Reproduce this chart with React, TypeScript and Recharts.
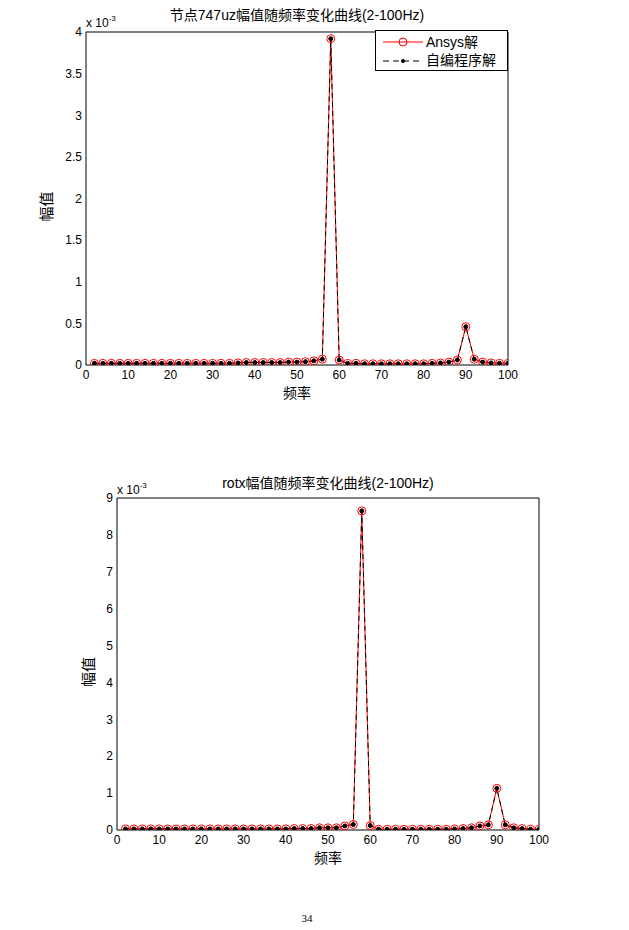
import { LineChart, Line, XAxis, YAxis, Legend } from "recharts";

const FONT = '"Liberation Sans", Arial, "Noto Sans CJK SC", sans-serif';

// frequency points (Hz)
const freq = [
  2, 4, 6, 8, 10, 12, 14, 16, 18, 20, 22, 24, 26, 28, 30, 32, 34, 36, 38, 40,
  42, 44, 46, 48, 50, 52, 54, 56, 58, 60, 62, 64, 66, 68, 70, 72, 74, 76, 78, 80,
  82, 84, 86, 88, 90, 92, 94, 96, 98, 100,
];

// node 747 uz amplitude, x 1e-3
const ansysTop = [
  0.02, 0.02, 0.02, 0.02, 0.02, 0.02, 0.02, 0.02, 0.02, 0.02, 0.02, 0.02, 0.02, 0.02, 0.02, 0.02, 0.02, 0.025, 0.03, 0.03,
  0.03, 0.03, 0.03, 0.035, 0.035, 0.04, 0.05, 0.07, 3.92, 0.06, 0.02, 0.02, 0.015, 0.015, 0.015, 0.015, 0.015, 0.015, 0.015, 0.015,
  0.02, 0.025, 0.035, 0.06, 0.46, 0.07, 0.035, 0.025, 0.02, 0.02,
];
const ownTop = [
  0.02, 0.02, 0.02, 0.02, 0.02, 0.02, 0.02, 0.02, 0.02, 0.02, 0.02, 0.02, 0.02, 0.02, 0.02, 0.02, 0.02, 0.025, 0.03, 0.03,
  0.03, 0.03, 0.03, 0.035, 0.035, 0.04, 0.05, 0.07, 3.92, 0.06, 0.02, 0.02, 0.015, 0.015, 0.015, 0.015, 0.015, 0.015, 0.015, 0.015,
  0.02, 0.025, 0.035, 0.06, 0.46, 0.07, 0.035, 0.025, 0.02, 0.02,
];

// rotx amplitude, x 1e-3
const ansysBottom = [
  0.03, 0.03, 0.03, 0.03, 0.03, 0.03, 0.03, 0.03, 0.03, 0.03, 0.03, 0.03, 0.03, 0.03, 0.03, 0.03, 0.03, 0.03, 0.03, 0.03,
  0.04, 0.04, 0.04, 0.06, 0.06, 0.06, 0.11, 0.15, 8.65, 0.12, 0.02, 0.02, 0.02, 0.02, 0.02, 0.02, 0.02, 0.02, 0.02, 0.03,
  0.04, 0.06, 0.11, 0.14, 1.13, 0.14, 0.06, 0.04, 0.02, 0.02,
];
const ownBottom = [
  0.03, 0.03, 0.03, 0.03, 0.03, 0.03, 0.03, 0.03, 0.03, 0.03, 0.03, 0.03, 0.03, 0.03, 0.03, 0.03, 0.03, 0.03, 0.03, 0.03,
  0.04, 0.04, 0.04, 0.06, 0.06, 0.06, 0.11, 0.15, 8.65, 0.12, 0.02, 0.02, 0.02, 0.02, 0.02, 0.02, 0.02, 0.02, 0.02, 0.03,
  0.04, 0.06, 0.11, 0.14, 1.13, 0.14, 0.06, 0.04, 0.02, 0.02,
];

const xTicks = [0, 10, 20, 30, 40, 50, 60, 70, 80, 90, 100];
const yTicksTop = [0, 0.5, 1, 1.5, 2, 2.5, 3, 3.5, 4];
const yTicksBottom = [0, 1, 2, 3, 4, 5, 6, 7, 8, 9];

const SERIES_NAMES = ["Ansys解", "自编程序解"];

function LegendBox() {
  return (
    <div
      style={{
        width: 133,
        height: 41,
        boxSizing: "border-box",
        border: "1px solid #000",
        background: "#fff",
        fontFamily: FONT,
        fontSize: 14,
        color: "#000",
        position: "relative",
      }}
    >
      <svg width={44} height={40} style={{ position: "absolute", left: 5, top: 0 }}>
        <line x1={2} y1={11} x2={42} y2={11} stroke="#ff0000" strokeWidth={1} />
        <circle cx={22} cy={11} r={4} fill="none" stroke="#ff0000" />
        <line x1={2} y1={30} x2={42} y2={30} stroke="#000" strokeDasharray="6 4" />
        <circle cx={22} cy={30} r={2} fill="#000" />
      </svg>
      <div style={{ position: "absolute", left: 50, top: 3, lineHeight: "16px" }}>{SERIES_NAMES[0]}</div>
      <div style={{ position: "absolute", left: 50, top: 21, lineHeight: "16px" }}>{SERIES_NAMES[1]}</div>
    </div>
  );
}

interface PanelProps {
  top: number;
  height: number;
  margin: { top: number; left: number; right: number; bottom: number };
  ansys: number[];
  own: number[];
  yTicks: number[];
  yLabelOffset: number;
  legend?: boolean;
}

function Panel({ top, height, margin, ansys, own, yTicks, yLabelOffset, legend }: PanelProps) {
  const data = freq.map((f, i) => ({ f, ansys: ansys[i], own: own[i] }));
  const yDomain = [0, yTicks[yTicks.length - 1]];
  const tickStyle = { fontSize: 12, fill: "#000", fontFamily: FONT };
  return (
    <div style={{ position: "absolute", left: 0, top }}>
      <LineChart width={629} height={height} data={data} margin={margin} style={{ fontFamily: FONT }}>
        <XAxis
          xAxisId="b"
          dataKey="f"
          type="number"
          domain={[0, 100]}
          ticks={xTicks}
          interval={0}
          allowDataOverflow
          height={35}
          tickLine={false}
          tickSize={0}
          tickMargin={5}
          axisLine={{ stroke: "#000" }}
          tick={tickStyle}
          label={{ value: "频率", position: "insideBottom", offset: 2, fontSize: 14, fill: "#000" }}
        />
        <XAxis
          xAxisId="bIn"
          type="number"
          domain={[0, 100]}
          ticks={xTicks}
          allowDataOverflow
          mirror
          tick={false}
          tickSize={4}
          tickLine={{ stroke: "#000" }}
          axisLine={false}
        />
        <XAxis
          xAxisId="t"
          orientation="top"
          type="number"
          domain={[0, 100]}
          ticks={xTicks}
          allowDataOverflow
          mirror
          tick={false}
          tickSize={4}
          tickLine={{ stroke: "#000" }}
          axisLine={{ stroke: "#000" }}
        />
        <YAxis
          yAxisId="l"
          type="number"
          domain={yDomain}
          ticks={yTicks}
          interval={0}
          allowDataOverflow
          width={50}
          tickLine={false}
          tickSize={0}
          tickMargin={4}
          axisLine={{ stroke: "#000" }}
          tick={tickStyle}
          label={{
            value: "幅值",
            angle: -90,
            position: "insideLeft",
            offset: yLabelOffset,
            dy: 8,
            fontSize: 15,
            fill: "#000",
            style: { textAnchor: "middle" },
          }}
        />
        <YAxis
          yAxisId="lIn"
          type="number"
          domain={yDomain}
          ticks={yTicks}
          allowDataOverflow
          mirror
          tick={false}
          tickSize={4}
          tickLine={{ stroke: "#000" }}
          axisLine={false}
        />
        <YAxis
          yAxisId="r"
          orientation="right"
          type="number"
          domain={yDomain}
          ticks={yTicks}
          allowDataOverflow
          mirror
          tick={false}
          tickSize={4}
          tickLine={{ stroke: "#000" }}
          axisLine={{ stroke: "#000" }}
        />
        <Line
          xAxisId="b"
          yAxisId="l"
          dataKey="ansys"
          name={SERIES_NAMES[0]}
          stroke="#ff0000"
          strokeWidth={1}
          dot={{ r: 4, fill: "none", stroke: "#ff0000", strokeWidth: 1 }}
          isAnimationActive={false}
        />
        <Line
          xAxisId="b"
          yAxisId="l"
          dataKey="own"
          name={SERIES_NAMES[1]}
          stroke="#000"
          strokeWidth={1}
          strokeDasharray="5 4"
          dot={{ r: 2, fill: "#000", stroke: "#000", strokeWidth: 1, strokeDasharray: "0" }}
          isAnimationActive={false}
        />
        {legend && (
          <Legend
            layout="vertical"
            align="center"
            verticalAlign="middle"
            wrapperStyle={{ left: 375, top: 30, width: 133 }}
            content={() => <LegendBox />}
          />
        )}
      </LineChart>
    </div>
  );
}

function Title({ text, cx, top }: { text: string; cx: number; top: number }) {
  return (
    <div
      style={{
        position: "absolute",
        left: cx - 200,
        width: 400,
        top,
        textAlign: "center",
        fontFamily: FONT,
        fontSize: 14,
        lineHeight: "16px",
        color: "#000",
        whiteSpace: "nowrap",
      }}
    >
      {text}
    </div>
  );
}

function Multiplier({ left, top }: { left: number; top: number }) {
  return (
    <div
      style={{
        position: "absolute",
        left,
        top,
        fontFamily: FONT,
        fontSize: 12,
        lineHeight: "14px",
        color: "#000",
        whiteSpace: "nowrap",
      }}
    >
      x 10<sup style={{ fontSize: 8, verticalAlign: "6px" }}>-3</sup>
    </div>
  );
}

export default function App() {
  return (
    <div style={{ position: "absolute", left: 0, top: 0, width: 629, height: 930, background: "#fff" }}>
      <Panel
        top={0}
        height={400}
        margin={{ top: 32, left: 36, right: 121, bottom: 0 }}
        ansys={ansysTop}
        own={ownTop}
        yTicks={yTicksTop}
        yLabelOffset={11}
        legend
      />
      <Panel
        top={460}
        height={420}
        margin={{ top: 38, left: 67, right: 90, bottom: 15 }}
        ansys={ansysBottom}
        own={ownBottom}
        yTicks={yTicksBottom}
        yLabelOffset={22}
      />
      <Title text="节点747uz幅值随频率变化曲线(2-100Hz)" cx={297} top={7} />
      <Title text="rotx幅值随频率变化曲线(2-100Hz)" cx={328} top={475} />
      <Multiplier left={86} top={12} />
      <Multiplier left={117} top={479} />
      <div
        style={{
          position: "absolute",
          left: 297,
          width: 20,
          top: 912,
          textAlign: "center",
          fontFamily: '"Liberation Serif", serif',
          fontSize: 11,
          color: "#000",
        }}
      >
        34
      </div>
    </div>
  );
}
